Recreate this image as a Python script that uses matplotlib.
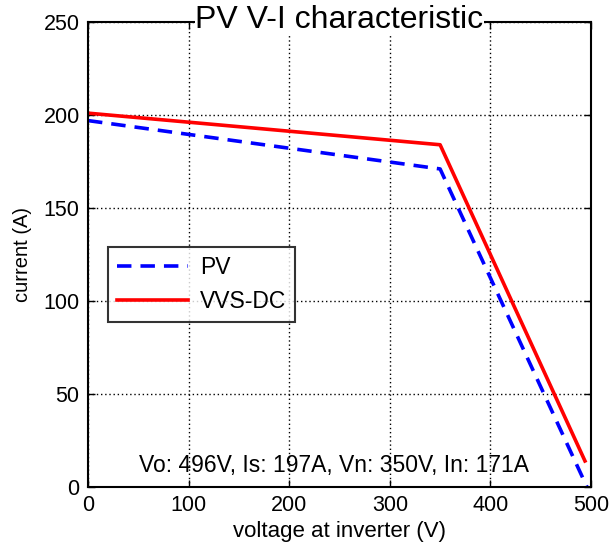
import matplotlib
matplotlib.use('Agg')
import matplotlib.pyplot as plt

matplotlib.rcParams['font.family'] = 'Liberation Sans'

# PV curve: open circuit -> knee -> zero current
pv_v = [0, 350, 496]
pv_i = [197, 171, 0]

# VVS-DC curve
vvs_v = [0, 350, 494]
vvs_i = [201, 184, 14]

xticks = [0, 100, 200, 300, 400, 500]
yticks = [0, 50, 100, 150, 200, 250]
note = 'Vo: 496V, Is: 197A, Vn: 350V, In: 171A'

fig = plt.figure(figsize=(6.13, 5.5), dpi=100)
ax = fig.add_axes([88 / 613, 1 - 487 / 550, 503 / 613, 465 / 550])

ax.plot(pv_v, pv_i, color='blue', linestyle='--', linewidth=2.6, dashes=(4, 2.5), label='PV')
ax.plot(vvs_v, vvs_i, color='red', linewidth=2.6, label='VVS-DC')

ax.set_xlim(0, 500)
ax.set_ylim(0, 250)
ax.set_xticks(xticks)
ax.set_yticks(yticks)
ax.tick_params(direction='in', top=True, right=True, labelsize=15.5, length=5, width=1, pad=6)
ax.grid(True, color='black', linestyle=(0, (1, 2)), linewidth=1)
for s in ax.spines.values():
    s.set_linewidth(1.5)

ax.set_xlabel('voltage at inverter (V)', fontsize=16, labelpad=3)
ax.set_ylabel('current (A)', fontsize=14.5, labelpad=8)

ax.text(250, 251, 'PV V-I characteristic', fontsize=23, ha='center', va='center',
        bbox=dict(facecolor='white', edgecolor='none', pad=0.5), zorder=5, clip_on=False)
ax.text(245, 11.5, note, fontsize=16.5, ha='center', va='center')

leg = ax.legend(loc='upper left', bbox_to_anchor=(0.04, 0.516), fontsize=16.5,
                frameon=True, fancybox=False, edgecolor='black', borderpad=0.4,
                handlelength=3.1, handletextpad=0.5, labelspacing=0.45, borderaxespad=0)
leg.get_frame().set_linewidth(1.5)

fig.savefig('out.png', dpi=100)
